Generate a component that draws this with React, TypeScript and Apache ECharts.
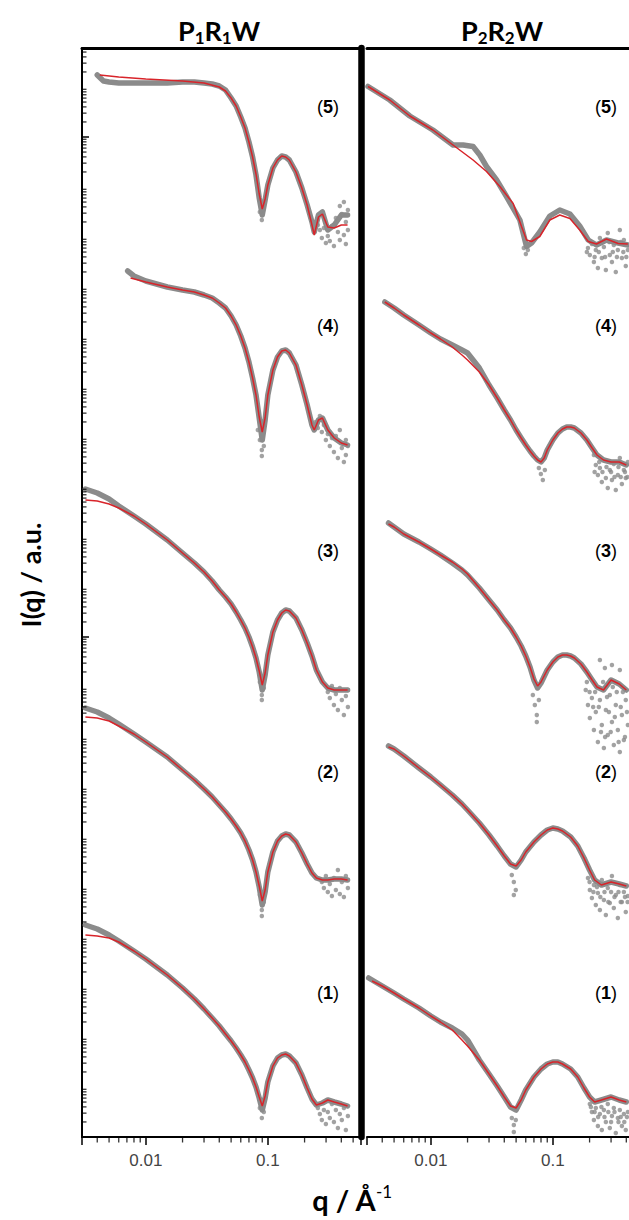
import React, { useEffect, useRef } from "react";
import * as echarts from "echarts";

// ---------- data: [q (1/Å), log10 I (a.u., stacked)] ----------
const L5_data = [[0.004,21.24],[0.0045,21.12],[0.005,21.1],[0.006,21.08],[0.008,21.08],[0.01,21.08],[0.015,21.08],[0.02,21.1],[0.025,21.1],[0.03,21.08],[0.035,21.06],[0.04,21.02],[0.045,20.94],[0.05,20.78],[0.055,20.62],[0.06,20.4],[0.065,20.18],[0.07,19.9],[0.075,19.6],[0.08,19.24],[0.085,18.78],[0.09,18.44],[0.095,18.74],[0.1,19.04],[0.11,19.38],[0.12,19.54],[0.13,19.62],[0.14,19.6],[0.15,19.54],[0.17,19.3],[0.19,18.98],[0.21,18.64],[0.23,18.3],[0.24,18.1],[0.26,18.44],[0.28,18.5],[0.31,18.14],[0.35,18.24],[0.4,18.44],[0.45,18.44]];
const L5_fit = [[0.0042,21.24],[0.006,21.2],[0.01,21.16],[0.02,21.12],[0.03,21.08],[0.04,21.0],[0.045,20.92],[0.05,20.78],[0.055,20.62],[0.06,20.4],[0.065,20.18],[0.07,19.9],[0.075,19.6],[0.08,19.26],[0.085,18.86],[0.09,18.56],[0.095,18.76],[0.1,19.04],[0.11,19.38],[0.12,19.54],[0.13,19.62],[0.14,19.6],[0.15,19.54],[0.17,19.3],[0.19,18.98],[0.21,18.64],[0.23,18.24],[0.24,18.04],[0.26,18.4],[0.28,18.46],[0.31,18.2],[0.35,18.18],[0.4,18.24],[0.45,18.24]];
const L5_noise = [[0.257,18.24],[0.267,18.14],[0.277,17.98],[0.288,18.18],[0.299,17.88],[0.31,18.02],[0.322,17.92],[0.335,18.22],[0.348,17.82],[0.361,18.38],[0.375,18.1],[0.389,18.62],[0.389,17.94],[0.404,18.46],[0.42,18.04],[0.42,18.7],[0.436,18.3],[0.436,17.86],[0.453,18.54],[0.453,18.14],[0.0893,18.34],[0.086,18.5]];

const L4_data = [[0.0071,17.32],[0.008,17.22],[0.01,17.12],[0.015,17.0],[0.02,16.94],[0.025,16.9],[0.03,16.84],[0.035,16.78],[0.04,16.68],[0.045,16.58],[0.05,16.42],[0.055,16.24],[0.06,16.02],[0.065,15.78],[0.07,15.5],[0.075,15.18],[0.08,14.84],[0.085,14.38],[0.09,13.94],[0.095,14.34],[0.1,14.84],[0.11,15.34],[0.12,15.6],[0.13,15.72],[0.14,15.74],[0.15,15.68],[0.17,15.44],[0.19,15.04],[0.21,14.64],[0.23,14.24],[0.24,14.14],[0.26,14.34],[0.28,14.38],[0.31,14.14],[0.35,13.98],[0.4,13.88],[0.45,13.84]];
const L4_fit = [[0.0075,17.18],[0.01,17.1],[0.015,17.0],[0.02,16.94],[0.025,16.9],[0.03,16.84],[0.035,16.78],[0.04,16.68],[0.045,16.58],[0.05,16.42],[0.055,16.24],[0.06,16.02],[0.065,15.78],[0.07,15.5],[0.075,15.18],[0.08,14.84],[0.085,14.4],[0.09,14.1],[0.095,14.38],[0.1,14.84],[0.11,15.34],[0.12,15.6],[0.13,15.72],[0.14,15.74],[0.15,15.68],[0.17,15.44],[0.19,15.04],[0.21,14.64],[0.23,14.24],[0.24,14.14],[0.26,14.34],[0.28,14.38],[0.31,14.14],[0.35,13.98],[0.4,13.88],[0.45,13.84]];
const L4_noise = [[0.086,13.94],[0.0893,13.74],[0.0927,13.82],[0.0893,13.62],[0.0828,14.14],[0.247,14.3],[0.257,14.18],[0.267,14.42],[0.277,14.1],[0.288,14.24],[0.299,13.94],[0.31,14.06],[0.322,13.82],[0.335,13.98],[0.348,13.7],[0.361,14.02],[0.375,13.58],[0.389,14.14],[0.404,13.78],[0.42,13.5],[0.436,13.94],[0.436,13.64],[0.453,13.82]];

const L3_data = [[0.0032,12.96],[0.004,12.88],[0.005,12.76],[0.006,12.62],[0.008,12.42],[0.01,12.26],[0.015,11.94],[0.02,11.68],[0.025,11.48],[0.03,11.3],[0.035,11.12],[0.04,10.94],[0.045,10.8],[0.05,10.66],[0.055,10.5],[0.06,10.34],[0.065,10.18],[0.07,10.0],[0.075,9.8],[0.08,9.58],[0.085,9.3],[0.09,8.94],[0.095,9.24],[0.1,9.64],[0.11,10.1],[0.12,10.34],[0.13,10.48],[0.14,10.54],[0.15,10.52],[0.17,10.38],[0.19,10.14],[0.21,9.88],[0.23,9.62],[0.25,9.34],[0.28,9.1],[0.31,8.98],[0.35,8.94],[0.4,8.94],[0.45,8.94]];
const L3_fit = [[0.0032,12.74],[0.004,12.72],[0.005,12.66],[0.006,12.58],[0.008,12.42],[0.01,12.26],[0.015,11.94],[0.02,11.68],[0.025,11.48],[0.03,11.3],[0.035,11.12],[0.04,10.94],[0.045,10.8],[0.05,10.66],[0.055,10.5],[0.06,10.34],[0.065,10.18],[0.07,10.0],[0.075,9.8],[0.08,9.58],[0.085,9.32],[0.09,9.04],[0.095,9.28],[0.1,9.64],[0.11,10.1],[0.12,10.34],[0.13,10.48],[0.14,10.54],[0.15,10.52],[0.17,10.38],[0.19,10.14],[0.21,9.88],[0.23,9.62],[0.25,9.34],[0.28,9.1],[0.31,8.98],[0.35,8.94],[0.4,8.94],[0.45,8.94]];
const L3_noise = [[0.086,9.1],[0.0893,8.84],[0.0927,8.98],[0.0893,8.74],[0.31,8.9],[0.322,8.78],[0.335,9.02],[0.348,8.64],[0.361,8.86],[0.375,8.54],[0.389,8.98],[0.404,8.74],[0.42,8.44],[0.436,8.82],[0.453,8.6],[0.453,8.94]];

const L2_data = [[0.0032,8.58],[0.004,8.5],[0.005,8.38],[0.006,8.26],[0.008,8.06],[0.01,7.9],[0.015,7.6],[0.02,7.34],[0.025,7.14],[0.03,6.96],[0.035,6.8],[0.04,6.64],[0.045,6.5],[0.05,6.36],[0.055,6.22],[0.06,6.08],[0.065,5.92],[0.07,5.74],[0.075,5.54],[0.08,5.3],[0.085,5.0],[0.09,4.64],[0.095,4.9],[0.1,5.3],[0.11,5.7],[0.12,5.92],[0.13,6.02],[0.14,6.06],[0.15,6.04],[0.17,5.9],[0.19,5.68],[0.21,5.46],[0.23,5.28],[0.25,5.18],[0.28,5.14],[0.31,5.14],[0.35,5.16],[0.4,5.16],[0.45,5.14]];
const L2_fit = [[0.0032,8.4],[0.004,8.38],[0.005,8.32],[0.006,8.22],[0.008,8.06],[0.01,7.9],[0.015,7.6],[0.02,7.34],[0.025,7.14],[0.03,6.96],[0.035,6.8],[0.04,6.64],[0.045,6.5],[0.05,6.36],[0.055,6.22],[0.06,6.08],[0.065,5.92],[0.07,5.74],[0.075,5.54],[0.08,5.3],[0.085,5.02],[0.09,4.72],[0.095,4.94],[0.1,5.3],[0.11,5.7],[0.12,5.92],[0.13,6.02],[0.14,6.06],[0.15,6.04],[0.17,5.9],[0.19,5.68],[0.21,5.46],[0.23,5.28],[0.25,5.18],[0.28,5.14],[0.31,5.14],[0.35,5.16],[0.4,5.16],[0.45,5.14]];
const L2_noise = [[0.086,4.84],[0.0893,4.54],[0.0927,4.7],[0.0893,4.42],[0.277,5.1],[0.288,4.98],[0.299,5.22],[0.31,4.9],[0.322,5.06],[0.335,4.82],[0.348,5.18],[0.361,4.94],[0.375,5.34],[0.389,4.86],[0.404,5.1],[0.42,4.8],[0.436,5.22],[0.453,4.98]];

const L1_data = [[0.0032,4.24],[0.004,4.16],[0.005,4.04],[0.006,3.92],[0.008,3.72],[0.01,3.56],[0.015,3.24],[0.02,2.98],[0.025,2.76],[0.03,2.56],[0.035,2.38],[0.04,2.22],[0.045,2.06],[0.05,1.92],[0.055,1.78],[0.06,1.64],[0.065,1.5],[0.07,1.34],[0.075,1.18],[0.08,1.0],[0.085,0.78],[0.09,0.54],[0.095,0.78],[0.1,1.1],[0.11,1.42],[0.12,1.58],[0.13,1.64],[0.14,1.66],[0.15,1.62],[0.17,1.48],[0.19,1.24],[0.21,0.98],[0.23,0.76],[0.25,0.64],[0.28,0.68],[0.31,0.74],[0.35,0.7],[0.4,0.66],[0.45,0.62]];
const L1_fit = [[0.0032,4.04],[0.004,4.02],[0.005,3.98],[0.006,3.9],[0.008,3.72],[0.01,3.56],[0.015,3.24],[0.02,2.98],[0.025,2.76],[0.03,2.56],[0.035,2.38],[0.04,2.22],[0.045,2.06],[0.05,1.92],[0.055,1.78],[0.06,1.64],[0.065,1.5],[0.07,1.34],[0.075,1.18],[0.08,1.0],[0.085,0.8],[0.09,0.62],[0.095,0.82],[0.1,1.1],[0.11,1.42],[0.12,1.58],[0.13,1.64],[0.14,1.66],[0.15,1.62],[0.17,1.48],[0.19,1.24],[0.21,0.98],[0.23,0.76],[0.25,0.64],[0.28,0.68],[0.31,0.74],[0.35,0.7],[0.4,0.66],[0.45,0.62]];
const L1_noise = [[0.086,0.58],[0.0893,0.38],[0.0927,0.5],[0.257,0.58],[0.267,0.46],[0.277,0.34],[0.288,0.54],[0.299,0.26],[0.31,0.5],[0.322,0.38],[0.335,0.66],[0.348,0.3],[0.361,0.54],[0.375,0.18],[0.389,0.46],[0.404,0.34],[0.42,0.58],[0.436,0.14],[0.453,0.42]];

const R5_data = [[0.00306,21.01],[0.00461,20.74],[0.00673,20.42],[0.0104,20.14],[0.0152,19.84],[0.0184,19.84],[0.0222,19.81],[0.0252,19.64],[0.0286,19.41],[0.0346,19.14],[0.0417,18.81],[0.0537,18.34],[0.0609,17.81],[0.0669,17.88],[0.0782,18.1],[0.0945,18.42],[0.114,18.54],[0.138,18.46],[0.166,18.22],[0.195,17.94],[0.228,17.84],[0.275,17.94],[0.343,17.88],[0.412,17.84]];
const R5_fit = [[0.00306,21.01],[0.00461,20.74],[0.00673,20.42],[0.0104,20.14],[0.0152,19.84],[0.0222,19.54],[0.0286,19.31],[0.0368,19.01],[0.0473,18.67],[0.0554,18.21],[0.0609,17.94],[0.0669,17.91],[0.0782,18.01],[0.0945,18.34],[0.114,18.44],[0.138,18.37],[0.166,18.14],[0.195,17.91],[0.228,17.86],[0.275,17.96],[0.343,17.87],[0.412,17.86]];
const R5_noise = [[0.0578,17.78],[0.0601,17.66],[0.0624,17.74],[0.186,18.02],[0.194,17.78],[0.201,17.64],[0.209,17.86],[0.217,17.5],[0.225,17.74],[0.234,17.38],[0.243,17.98],[0.252,17.58],[0.262,17.8],[0.272,17.34],[0.282,18.08],[0.293,17.64],[0.305,17.5],[0.316,17.84],[0.328,17.3],[0.341,17.74],[0.354,18.14],[0.368,17.58],[0.382,17.94],[0.396,17.42],[0.412,17.74],[0.19,17.7],[0.205,17.9],[0.22,17.6],[0.238,17.7],[0.256,17.9],[0.268,17.6],[0.29,17.9],[0.31,17.7],[0.335,17.6],[0.36,17.9],[0.378,17.7],[0.4,17.6]];

const R4_data = [[0.0042,16.7],[0.005,16.58],[0.006,16.44],[0.008,16.24],[0.01,16.08],[0.012,15.96],[0.015,15.84],[0.018,15.74],[0.02,15.68],[0.025,15.38],[0.03,15.04],[0.035,14.78],[0.04,14.54],[0.045,14.34],[0.05,14.14],[0.055,13.98],[0.06,13.84],[0.065,13.72],[0.07,13.62],[0.075,13.54],[0.08,13.5],[0.085,13.58],[0.09,13.74],[0.1,13.94],[0.11,14.08],[0.12,14.16],[0.13,14.2],[0.14,14.2],[0.15,14.18],[0.17,14.08],[0.19,13.94],[0.21,13.78],[0.23,13.64],[0.26,13.54],[0.3,13.5],[0.35,13.5],[0.4,13.44]];
const R4_fit = [[0.0042,16.7],[0.005,16.58],[0.006,16.44],[0.008,16.24],[0.01,16.08],[0.012,15.96],[0.015,15.8],[0.018,15.64],[0.02,15.54],[0.025,15.3],[0.03,15.04],[0.035,14.78],[0.04,14.54],[0.045,14.34],[0.05,14.14],[0.055,13.98],[0.06,13.84],[0.065,13.72],[0.07,13.62],[0.075,13.54],[0.08,13.5],[0.085,13.58],[0.09,13.74],[0.1,13.94],[0.11,14.08],[0.12,14.16],[0.13,14.2],[0.14,14.2],[0.15,14.18],[0.17,14.08],[0.19,13.94],[0.21,13.78],[0.23,13.64],[0.26,13.54],[0.3,13.5],[0.35,13.5],[0.4,13.44]];
const R4_noise = [[0.0768,13.38],[0.0798,13.26],[0.0828,13.14],[0.086,13.34],[0.217,13.64],[0.225,13.44],[0.234,13.24],[0.243,13.38],[0.252,13.1],[0.262,13.54],[0.272,13.18],[0.282,12.98],[0.293,13.34],[0.305,13.14],[0.316,13.46],[0.328,12.94],[0.341,13.24],[0.354,13.58],[0.368,13.06],[0.382,13.34],[0.396,13.18],[0.412,13.5],[0.22,13.3],[0.24,13.5],[0.255,13.3],[0.275,13.4],[0.3,13.3],[0.32,13.2],[0.345,13.4],[0.36,13.2],[0.39,13.3],[0.408,13.2]];

const R3_data = [[0.0045,12.28],[0.005,12.2],[0.006,12.06],[0.008,11.9],[0.01,11.76],[0.012,11.64],[0.015,11.48],[0.018,11.34],[0.02,11.24],[0.025,10.98],[0.03,10.74],[0.035,10.54],[0.04,10.34],[0.045,10.18],[0.05,10.0],[0.055,9.82],[0.06,9.62],[0.065,9.4],[0.07,9.14],[0.075,8.98],[0.08,9.08],[0.09,9.34],[0.1,9.5],[0.11,9.6],[0.12,9.64],[0.13,9.64],[0.14,9.62],[0.15,9.58],[0.17,9.46],[0.19,9.3],[0.21,9.14],[0.23,9.0],[0.26,8.94],[0.3,9.14],[0.35,9.06],[0.4,8.94]];
const R3_fit = [[0.0045,12.26],[0.005,12.2],[0.006,12.06],[0.008,11.9],[0.01,11.76],[0.012,11.64],[0.015,11.5],[0.018,11.36],[0.02,11.26],[0.025,10.98],[0.03,10.74],[0.035,10.54],[0.04,10.34],[0.045,10.18],[0.05,10.0],[0.055,9.82],[0.06,9.62],[0.065,9.4],[0.07,9.16],[0.075,9.02],[0.08,9.1],[0.09,9.34],[0.1,9.5],[0.11,9.6],[0.12,9.64],[0.13,9.64],[0.14,9.62],[0.15,9.58],[0.17,9.46],[0.19,9.3],[0.21,9.14],[0.23,9.0],[0.26,8.94],[0.3,9.14],[0.35,9.06],[0.4,8.94]];
const R3_noise = [[0.0686,8.84],[0.0712,8.64],[0.0739,8.44],[0.0768,8.74],[0.0739,8.3],[0.186,8.94],[0.194,8.64],[0.201,8.38],[0.209,8.78],[0.217,8.14],[0.225,8.5],[0.234,7.9],[0.243,8.74],[0.252,8.24],[0.262,7.78],[0.272,8.54],[0.282,8.04],[0.293,8.84],[0.305,8.3],[0.316,7.84],[0.328,8.64],[0.341,8.14],[0.354,7.7],[0.368,8.44],[0.382,7.94],[0.396,8.74],[0.412,8.24],[0.243,9.54],[0.267,9.38],[0.305,9.44],[0.354,9.34],[0.19,9.1],[0.2,8.9],[0.214,8.6],[0.222,8.9],[0.238,8.6],[0.248,8.1],[0.258,9.1],[0.268,8.0],[0.278,8.8],[0.288,8.5],[0.298,8.1],[0.31,9.0],[0.322,8.4],[0.334,8.9],[0.346,7.9],[0.36,8.6],[0.375,8.9],[0.39,8.0],[0.405,8.5]];

const R2_data = [[0.0045,7.82],[0.005,7.76],[0.006,7.62],[0.008,7.38],[0.01,7.2],[0.012,7.04],[0.015,6.84],[0.018,6.66],[0.02,6.54],[0.025,6.28],[0.03,6.04],[0.035,5.82],[0.04,5.62],[0.045,5.46],[0.05,5.4],[0.055,5.54],[0.06,5.7],[0.07,5.9],[0.08,6.04],[0.09,6.14],[0.1,6.18],[0.11,6.16],[0.12,6.12],[0.14,6.0],[0.16,5.82],[0.18,5.58],[0.2,5.34],[0.22,5.14],[0.25,5.04],[0.3,5.1],[0.35,5.06],[0.4,5.02]];
const R2_fit = [[0.0045,7.8],[0.005,7.76],[0.006,7.62],[0.008,7.38],[0.01,7.2],[0.012,7.04],[0.015,6.84],[0.018,6.66],[0.02,6.54],[0.025,6.28],[0.03,6.04],[0.035,5.82],[0.04,5.62],[0.045,5.46],[0.05,5.42],[0.055,5.54],[0.06,5.7],[0.07,5.9],[0.08,6.04],[0.09,6.14],[0.1,6.18],[0.11,6.16],[0.12,6.12],[0.14,6.0],[0.16,5.82],[0.18,5.58],[0.2,5.34],[0.22,5.14],[0.25,5.04],[0.3,5.1],[0.35,5.06],[0.4,5.02]];
const R2_noise = [[0.0461,5.24],[0.0479,5.1],[0.0497,4.94],[0.0479,4.84],[0.194,5.18],[0.201,4.94],[0.209,4.78],[0.217,5.04],[0.225,4.64],[0.234,4.88],[0.243,4.54],[0.252,5.14],[0.262,4.74],[0.272,4.44],[0.282,4.98],[0.293,4.68],[0.305,5.22],[0.316,4.58],[0.328,4.84],[0.341,4.38],[0.354,5.04],[0.368,4.7],[0.382,4.9],[0.396,4.5],[0.412,4.82],[0.2,5.1],[0.215,4.9],[0.23,5.0],[0.245,4.8],[0.265,4.9],[0.285,4.7],[0.3,4.9],[0.32,4.8],[0.345,4.9],[0.36,4.7],[0.39,4.8],[0.41,4.7]];

const R1_data = [[0.0031,3.18],[0.004,3.02],[0.005,2.88],[0.006,2.76],[0.008,2.58],[0.01,2.42],[0.012,2.3],[0.015,2.18],[0.018,2.06],[0.02,1.94],[0.025,1.54],[0.03,1.26],[0.035,1.02],[0.04,0.8],[0.045,0.6],[0.05,0.54],[0.055,0.74],[0.06,0.94],[0.07,1.2],[0.08,1.36],[0.09,1.46],[0.1,1.5],[0.11,1.5],[0.12,1.46],[0.14,1.36],[0.16,1.2],[0.18,0.98],[0.2,0.8],[0.22,0.7],[0.25,0.74],[0.3,0.8],[0.35,0.74],[0.4,0.7]];
const R1_fit = [[0.0033,3.12],[0.004,3.02],[0.005,2.88],[0.006,2.76],[0.008,2.58],[0.01,2.42],[0.012,2.3],[0.015,2.14],[0.018,1.94],[0.02,1.82],[0.025,1.54],[0.03,1.26],[0.035,1.02],[0.04,0.8],[0.045,0.62],[0.05,0.58],[0.055,0.74],[0.06,0.94],[0.07,1.2],[0.08,1.36],[0.09,1.46],[0.1,1.5],[0.11,1.5],[0.12,1.46],[0.14,1.36],[0.16,1.2],[0.18,0.98],[0.2,0.8],[0.22,0.7],[0.25,0.74],[0.3,0.8],[0.35,0.74],[0.4,0.7]];
const R1_noise = [[0.0461,0.38],[0.0479,0.24],[0.0497,0.34],[0.0479,0.1],[0.201,0.66],[0.209,0.5],[0.217,0.34],[0.225,0.58],[0.234,0.22],[0.243,0.46],[0.252,0.14],[0.262,0.54],[0.272,0.3],[0.282,0.66],[0.293,0.18],[0.305,0.42],[0.316,0.58],[0.328,0.08],[0.341,0.38],[0.354,0.54],[0.368,0.22],[0.382,0.46],[0.396,0.14],[0.412,0.5],[0.205,0.6],[0.22,0.5],[0.235,0.4],[0.25,0.6],[0.265,0.4],[0.285,0.5],[0.3,0.3],[0.32,0.5],[0.345,0.3],[0.36,0.4],[0.385,0.3],[0.405,0.4]];

// axis ticks
const X_MIN = 0.003;
const X_MAX = 0.58;
const Y_MAX_LOG = 21.78;
const xMinorTicks = [0.004,0.005,0.006,0.007,0.008,0.009,0.02,0.03,0.04,0.05,0.06,0.07,0.08,0.09,0.2,0.3,0.4,0.5];
const xLabelValues = [0.01, 0.1];
const yDecades = [0,1,2,3,4,5,6,7,8,9,10,11,12,13,14,15,16,17,18,19,20,21];
const yMinorMult = [2,3,4,5,6,7,8,9];
const curveTags = ["5", "4", "3", "2", "1"];
const panelTitles = ["{m|P}{s|1}{m|R}{s|1}{m|W}", "{m|P}{s|2}{m|R}{s|2}{m|W}"];

const GRAY = "#8b8b8b";
const RED = "#d8242a";
const FONT = "Lato, 'Open Sans', sans-serif";
const ARIAL = "'Liberation Sans', Arial, sans-serif";

const toXY = (arr: number[][]) => arr.map(([q, lg]) => [q, Math.pow(10, lg)]);

function curve(xi: number, yi: number, data: number[][], fit: number[][], noise: number[][]) {
  return [
    { type: "line", xAxisIndex: xi, yAxisIndex: yi, data: toXY(data), showSymbol: false, silent: true, z: 2,
      lineStyle: { color: GRAY, width: 5.5, cap: "round", join: "round" } },
    { type: "scatter", xAxisIndex: xi, yAxisIndex: yi, data: toXY(noise), symbolSize: 4.5, silent: true, z: 2,
      itemStyle: { color: GRAY } },
    { type: "line", xAxisIndex: xi, yAxisIndex: yi, data: toXY(fit), showSymbol: false, silent: true, z: 3,
      lineStyle: { color: RED, width: 1.5 } },
  ];
}

export default function App() {
  const ref = useRef<HTMLDivElement>(null);
  useEffect(() => {
    const chart = echarts.init(ref.current!, undefined, { renderer: "svg" });
    const yMax = Math.pow(10, Y_MAX_LOG);
    const xBottom = (grid: number) => ({
      type: "log", gridIndex: grid, min: X_MIN, max: X_MAX, position: "bottom",
      axisLine: { lineStyle: { color: "#000", width: 2 } },
      axisTick: { show: true, length: 8, inside: false, lineStyle: { color: "#000", width: 1.5 } },
      axisLabel: { margin: 15, fontSize: 17, color: "#444", fontFamily: ARIAL,
        formatter: (v: number) => (xLabelValues.some((t) => Math.abs(t - v) / t < 1e-6) ? String(v) : "") },
      splitLine: { show: false },
    });
    const xTop = (grid: number) => ({
      type: "log", gridIndex: grid, min: X_MIN, max: X_MAX, position: "top",
      axisLine: { lineStyle: { color: "#000", width: 3 } },
      axisTick: { show: false }, axisLabel: { show: false }, splitLine: { show: false },
    });
    const yMinor: number[][] = [];
    yDecades.forEach((d) => yMinorMult.forEach((m) => {
      const v = m * Math.pow(10, d);
      if (v < yMax) yMinor.push([X_MIN, v]);
    }));
    const xMinor = xMinorTicks.map((v) => [v, 1]);

    const option: any = {
      animation: false,
      backgroundColor: "#fff",
      grid: [
        { left: 82, top: 48, width: 279, height: 1089 },
        { left: 367, top: 48, width: 279, height: 1089 },
      ],
      xAxis: [xBottom(0), xTop(0), xBottom(1), xTop(1)],
      yAxis: [
        { type: "log", gridIndex: 0, min: 1, max: yMax, position: "left",
          axisLine: { lineStyle: { color: "#000", width: 2 } },
          axisTick: { show: true, inside: true, length: 7, lineStyle: { color: "#000", width: 1.5 } },
          axisLabel: { show: false }, splitLine: { show: false } },
        { type: "log", gridIndex: 0, min: 1, max: yMax, position: "right",
          axisLine: { lineStyle: { color: "#000", width: 6.5 } },
          axisTick: { show: false }, axisLabel: { show: false }, splitLine: { show: false } },
        { type: "log", gridIndex: 1, min: 1, max: yMax, position: "left",
          axisLine: { show: false },
          axisTick: { show: false }, axisLabel: { show: false }, splitLine: { show: false } },
      ],
      series: [
        ...curve(0, 0, L5_data, L5_fit, L5_noise),
        ...curve(0, 0, L4_data, L4_fit, L4_noise),
        ...curve(0, 0, L3_data, L3_fit, L3_noise),
        ...curve(0, 0, L2_data, L2_fit, L2_noise),
        ...curve(0, 0, L1_data, L1_fit, L1_noise),
        ...curve(2, 2, R5_data, R5_fit, R5_noise),
        ...curve(2, 2, R4_data, R4_fit, R4_noise),
        ...curve(2, 2, R3_data, R3_fit, R3_noise),
        ...curve(2, 2, R2_data, R2_fit, R2_noise),
        ...curve(2, 2, R1_data, R1_fit, R1_noise),
        // minor ticks
        { type: "scatter", xAxisIndex: 0, yAxisIndex: 0, data: xMinor, symbol: "rect", symbolSize: [1.3, 5],
          symbolOffset: [0, 3], itemStyle: { color: "#000" }, clip: false, silent: true, z: 5 },
        { type: "scatter", xAxisIndex: 2, yAxisIndex: 2, data: xMinor, symbol: "rect", symbolSize: [1.3, 5],
          symbolOffset: [0, 3], itemStyle: { color: "#000" }, clip: false, silent: true, z: 5 },
        { type: "scatter", xAxisIndex: 0, yAxisIndex: 0, data: yMinor, symbol: "rect", symbolSize: [4, 1.3],
          symbolOffset: [2.5, 0], itemStyle: { color: "#000" }, clip: false, silent: true, z: 5 },
      ],
      graphic: [
        ...panelTitles.map((t, i) => ({
          type: "text", x: i === 0 ? 219 : 502, y: 30,
          style: { text: t, align: "center", verticalAlign: "middle", fill: "#000",
            rich: {
              m: { fontSize: 27, fontWeight: "bold", fontFamily: FONT, lineHeight: 32 },
              s: { fontSize: 17, fontWeight: "bold", fontFamily: FONT, lineHeight: 16, verticalAlign: "bottom" },
            } },
        })),
        { type: "text", x: 30, y: 575, rotation: Math.PI / 2,
          style: { text: "I(q) / a.u.", align: "center", verticalAlign: "middle", fill: "#000",
            fontSize: 27, fontWeight: "bold", fontFamily: FONT } },
        { type: "text", x: 352, y: 1199,
          style: { text: "{m|q / Å}{p|-1}", align: "center", verticalAlign: "middle", fill: "#000",
            rich: {
              m: { fontSize: 29, fontWeight: "bold", fontFamily: FONT, lineHeight: 32 },
              p: { fontSize: 17, fontWeight: "normal", fontFamily: FONT, lineHeight: 16, verticalAlign: "top" },
            } } },
        ...[0, 1].flatMap((p) => curveTags.map((tag, i) => ({
          type: "text", x: p === 0 ? 328 : 606, y: [107, 326, 551, 772, 993][i],
          style: { text: `{n|(}{b|${tag}}{n|)}`, align: "center", verticalAlign: "middle",
            rich: {
              n: { fontSize: 18, fontFamily: ARIAL, fill: "#000" },
              b: { fontSize: 18, fontWeight: "bold", fontFamily: ARIAL, fill: "#000" },
            } },
        }))),
      ],
    };
    chart.setOption(option);
    return () => chart.dispose();
  }, []);
  return (
    <div style={{ position: "absolute", left: 0, top: 0, width: 629, height: 1220, overflow: "hidden", background: "#fff" }}>
      <div ref={ref} style={{ width: 660, height: 1220 }} />
    </div>
  );
}
